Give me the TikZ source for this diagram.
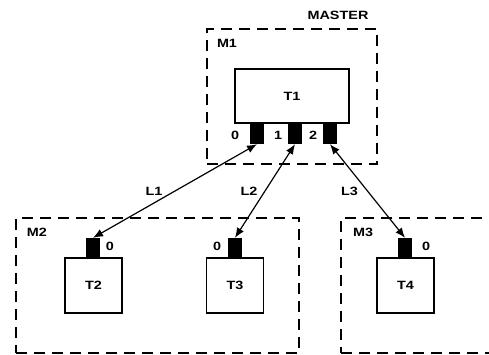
\documentclass[tikz,border=0pt]{standalone}
\usepackage{fontspec}
\newfontfamily\lblfont[FakeStretch=1.2]{Liberation Sans}
\usetikzlibrary{arrows.meta}

\begin{document}
\begin{tikzpicture}[x=1pt, y=-1pt,
    lbl/.style={font=\lblfont\fontsize{12}{14}\selectfont\bfseries, inner sep=0},
    machine/.style={draw, dash pattern=on 11pt off 7pt, line width=1.5pt, inner sep=0},
    task/.style={draw, line width=1.4pt, fill=white, inner sep=0, font=\lblfont\fontsize{12}{14}\selectfont\bfseries},
    port/.style={fill=black, inner sep=0, minimum width=14pt, minimum height=20pt},
    link/.style={line width=1.2pt, {Latex[length=10pt,width=8pt]}-{Latex[length=10pt,width=8pt]}}]
                \useasboundingbox (0,0) rectangle (489,354);
                \node[machine, minimum width=170pt, minimum height=135pt] (m1) at (292,96.5) {};
                \node[machine, minimum width=283pt, minimum height=135pt] (m2) at (157.5,285.5) {};
                \node[machine, minimum width=165pt, minimum height=135pt] (m3) at (423.5,285.5) {};
                \node[lbl] (master) at (338,15) {MASTER};
                \node[lbl] (m1l) at (227,43) {M1};
                \node[lbl] (m2l) at (37,232) {M2};
                \node[lbl] (m3l) at (363,232) {M3};
                \node[task, minimum width=114pt, minimum height=54pt] (t1) at (292,96) {T1};
                \node[task, minimum width=57pt, minimum height=55pt] (t2) at (93.5,285.5) {T2};
                \node[task, minimum width=57pt, minimum height=55pt] (t3) at (235,285.5) {T3};
                \node[task, minimum width=57pt, minimum height=55pt] (t4) at (405.5,285.5) {T4};
                \node[port, minimum height=21pt] (p10) at (257,133.5) {};
                \node[port, minimum height=21pt] (p11) at (295,133.5) {};
                \node[port, minimum height=21pt] (p12) at (330,133.5) {};
                \node[port] (p20) at (93,248) {};
                \node[port] (p30) at (235,248) {};
                \node[port] (p40) at (405,248) {};
                \node[lbl] (n10) at (235,135) {0};
                \node[lbl] (n11) at (278,135) {1};
                \node[lbl] (n12) at (313,135) {2};
                \node[lbl] (n20) at (110,246) {0};
                \node[lbl] (n30) at (217,246) {0};
                \node[lbl] (n40) at (426,246) {0};
                \draw[link] (p10.south) -- node[lbl, left=12pt] {L1} (p20.north);
                \draw[link] (p11.south) -- node[lbl, left=7pt] {L2} (p30.north);
                \draw[link] (p12.south) -- node[lbl, left=9pt] {L3} (p40.north);
                \end{tikzpicture}
\end{document}
